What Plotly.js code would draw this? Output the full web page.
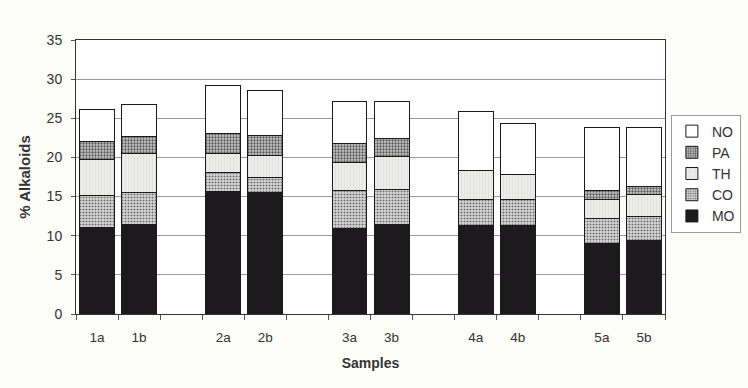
<!DOCTYPE html>
<html>
<head>
<meta charset="utf-8">
<script src="https://cdn.plot.ly/plotly-3.0.1.min.js"></script>
<style>
  html, body { margin: 0; padding: 0; background: #fdfdfa; }
  #chart { width: 748px; height: 388px; }
</style>
</head>
<body>
<div id="chart"></div>
<script>
// Categories (blank slots separate the sample groups)
const samples = ['1a', '1b', ' ', '2a', '2b', '  ', '3a', '3b', '   ', '4a', '4b', '    ', '5a', '5b'];

// Alkaloid percentages per sample (null for blank slots)
const MO = [11.1, 11.4, null, 15.6, 15.5, null, 10.9, 11.4, null, 11.3, 11.3, null, 9.0, 9.35];
const CO = [4.1, 4.1, null, 2.5, 2.0, null, 4.9, 4.5, null, 3.35, 3.35, null, 3.25, 3.15];
const TH = [4.55, 5.0, null, 2.4, 2.8, null, 3.5, 4.2, null, 3.7, 3.15, null, 2.4, 2.8];
const PA = [2.25, 2.2, null, 2.6, 2.5, null, 2.5, 2.3, null, 0, 0, null, 1.15, 1.05];
const NO = [4.1, 4.0, null, 6.1, 5.7, null, 5.4, 4.8, null, 7.55, 6.5, null, 8.0, 7.45];

const yTicks = [0, 5, 10, 15, 20, 25, 30, 35];

const outline = { color: '#1a1a1a', width: 1 };

const traces = [
  { name: 'MO', y: MO, marker: { color: '#1c1a1c', line: outline } },
  { name: 'CO', y: CO, marker: { color: '#b8b8b8', line: outline,
      pattern: { shape: '.', fgcolor: '#707070', bgcolor: '#dcdcdc', size: 3, solidity: 0.4 } } },
  { name: 'TH', y: TH, marker: { color: '#e8e8e6', line: outline,
      pattern: { shape: '|', fgcolor: '#dadad8', bgcolor: '#ececea', size: 3, solidity: 0.2 } } },
  { name: 'PA', y: PA, marker: { color: '#a8a8a8', line: outline,
      pattern: { shape: '.', fgcolor: '#555555', bgcolor: '#cacaca', size: 3, solidity: 0.45 } } },
  { name: 'NO', y: NO, marker: { color: '#ffffff', line: outline } }
].map(t => Object.assign({ type: 'bar', x: samples, hoverinfo: 'x+y+name' }, t));

const font = { family: 'Liberation Sans, Arial, sans-serif', color: '#333333' };

const layout = {
  width: 748, height: 388,
  paper_bgcolor: '#fdfdfa',
  plot_bgcolor: '#ffffff',
  font: Object.assign({ size: 13 }, font),
  margin: { l: 76, r: 83, t: 40, b: 74, autoexpand: false },
  barmode: 'stack',
  bargap: 0.17,
  showlegend: true,
  legend: {
    x: 1.01, y: 0.728, xanchor: 'left', yanchor: 'top',
    traceorder: 'reversed',
    bordercolor: '#9a9a9a', borderwidth: 1,
    bgcolor: '#ffffff',
    font: Object.assign({ size: 14 }, font),
    itemwidth: 30,
    tracegroupgap: 0
  },
  xaxis: {
    type: 'category',
    categoryorder: 'array', categoryarray: samples,
    tickson: 'boundaries',
    ticks: 'outside', ticklen: 5, tickcolor: '#555',
    showline: true, linecolor: '#333', linewidth: 1, mirror: true,
    showgrid: false,
    tickfont: Object.assign({ size: 13.5 }, font),
    ticklabelstandoff: 11,
    title: { text: '<b>Samples</b>', font: Object.assign({ size: 14 }, font), standoff: 13 }
  },
  yaxis: {
    range: [0, 35],
    tickvals: yTicks,
    ticks: 'outside', ticklen: 4, tickcolor: '#555',
    showline: true, linecolor: '#333', linewidth: 1, mirror: true,
    showgrid: true, gridcolor: '#9a9a9a', gridwidth: 1,
    zeroline: false,
    tickfont: Object.assign({ size: 14 }, font),
    ticklabelstandoff: 6,
    title: { text: '<b>% Alkaloids</b>', font: Object.assign({ size: 15 }, font), standoff: 12 }
  }
};

Plotly.newPlot('chart', traces, layout, { staticPlot: true, displayModeBar: false });
</script>
</body>
</html>
